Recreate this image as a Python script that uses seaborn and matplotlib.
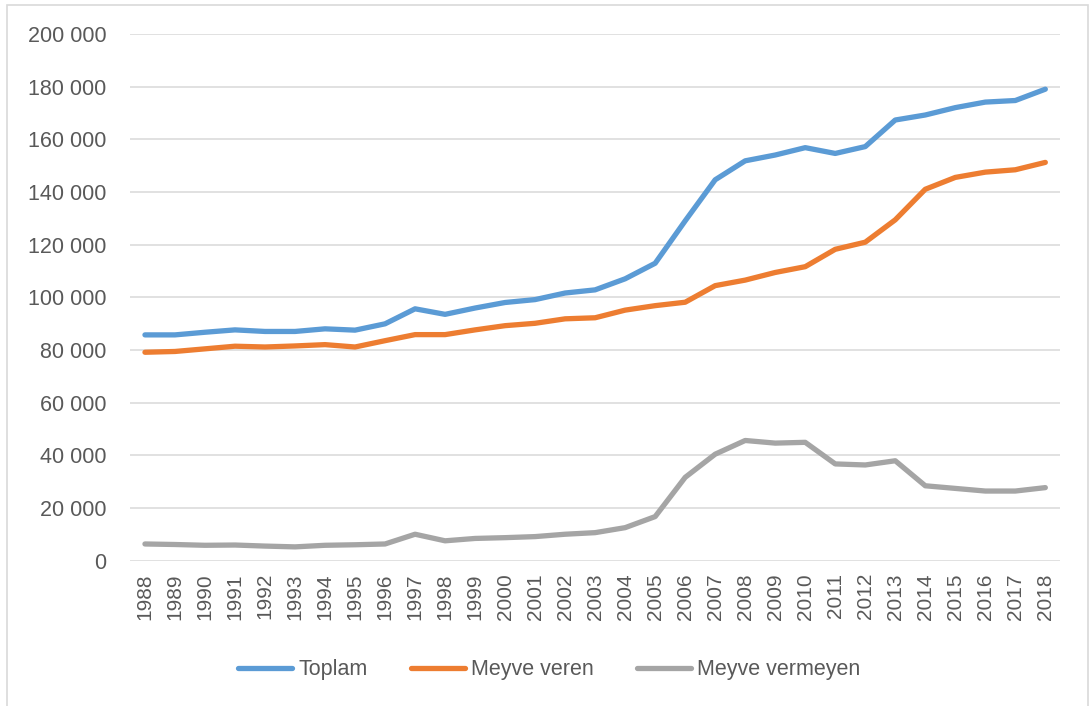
import numpy as np
import pandas as pd
import matplotlib
matplotlib.use("Agg")
import matplotlib.pyplot as plt
import seaborn as sns
from matplotlib.patches import Rectangle
from matplotlib.ticker import FuncFormatter

years = list(range(1988, 2019))

toplam = [85.7, 85.7, 86.7, 87.6, 87.0, 87.0, 88.0, 87.5, 89.9, 95.6,
          93.5, 95.9, 98.0, 99.1, 101.6, 102.8, 107.0, 112.9, 129.0, 144.6,
          151.8, 154.0, 156.8, 154.6, 157.2, 167.3, 169.2, 172.0, 174.1, 174.7,
          179.0]
meyve_veren = [79.1, 79.4, 80.4, 81.4, 81.1, 81.5, 82.0, 81.1, 83.5, 85.8,
               85.8, 87.6, 89.2, 90.1, 91.8, 92.2, 95.1, 96.8, 98.1, 104.4,
               106.5, 109.4, 111.6, 118.2, 120.9, 129.4, 141.0, 145.5, 147.5, 148.4,
               151.2]
meyve_vermeyen = [6.3, 6.1, 5.8, 5.9, 5.5, 5.2, 5.8, 6.0, 6.3, 10.0,
                  7.5, 8.4, 8.7, 9.1, 10.0, 10.6, 12.5, 16.7, 31.6, 40.4,
                  45.6, 44.6, 44.9, 36.7, 36.3, 37.9, 28.4, 27.4, 26.4, 26.4,
                  27.7]

series_names = ["Toplam", "Meyve veren", "Meyve vermeyen"]
colors = ["#5B9BD5", "#ED7D31", "#A5A5A5"]

df = pd.DataFrame({
    "Yıl": years * 3,
    "Değer": np.array(toplam + meyve_veren + meyve_vermeyen) * 1000,
    "Seri": [s for s in series_names for _ in years],
})

sns.set_theme(style="white")
plt.rcParams["font.family"] = ["Liberation Sans", "DejaVu Sans"]
text_color = "#595959"

fig = plt.figure(figsize=(10.92, 7.06), dpi=100)
ax = fig.add_axes([0.119, 0.206, 0.852, 0.746])

sns.lineplot(data=df, x="Yıl", y="Değer", hue="Seri", hue_order=series_names,
             palette=colors, linewidth=3.8, ax=ax, solid_capstyle="round")

ax.set_xlim(1987.5, 2018.5)
ax.set_ylim(0, 200000)
ax.set_xticks(years)
ax.set_xticklabels([str(y) for y in years], rotation=90)
ax.set_yticks(np.arange(0, 200001, 20000))
ax.yaxis.set_major_formatter(FuncFormatter(lambda v, p: f"{int(v):,}".replace(",", " ")))
ax.grid(axis="y", color="#D9D9D9", linewidth=1.1)
ax.set_axisbelow(True)
for s in ax.spines.values():
    s.set_visible(False)
ax.tick_params(axis="x", length=0, pad=9, labelsize=15, labelcolor=text_color)
ax.tick_params(axis="y", length=0, pad=17, labelsize=15.5, labelcolor=text_color)
ax.set_xlabel("")
ax.set_ylabel("")

ax.legend(loc="center", ncol=3, frameon=False, fontsize=15.5, labelcolor=text_color,
          handlelength=2.5, handletextpad=0.3, columnspacing=2.0)
leg = ax.get_legend()
leg.set_bbox_to_anchor((0.503, 0.051), transform=fig.transFigure)

fig.patches.append(Rectangle((7 / 1092, -0.01), 1081 / 1092, 1 - 5 / 706 + 0.01,
                             transform=fig.transFigure, fill=False,
                             edgecolor="#D9D9D9", linewidth=1.2))

fig.savefig("out.png", dpi=100)
